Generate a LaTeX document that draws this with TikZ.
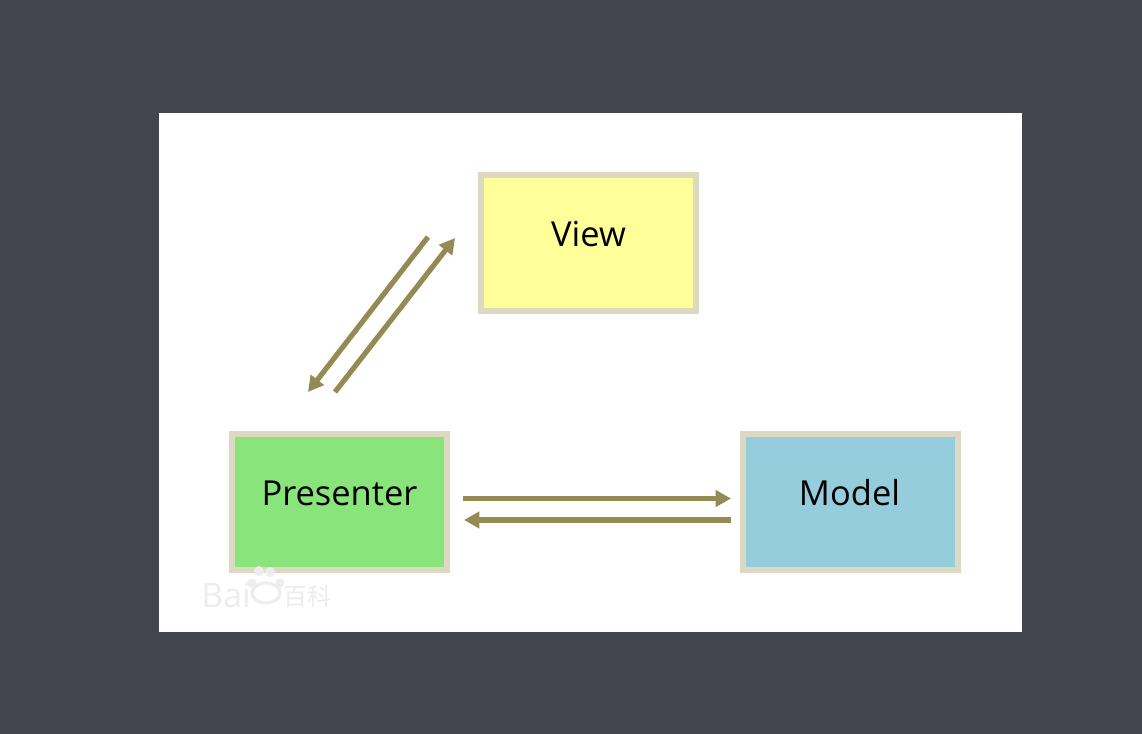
\documentclass[tikz,border=0pt]{standalone}
\usepackage{fontspec}
\setmainfont{Open Sans}
\newfontfamily\cjkmark{Noto Sans CJK SC}
\usetikzlibrary{arrows.meta}
\definecolor{backdrop}{HTML}{42454E}
\definecolor{boxedge}{HTML}{DDD8C2}
\definecolor{arrowtan}{HTML}{948A54}
\definecolor{viewfill}{HTML}{FFFF99}
\definecolor{presenterfill}{HTML}{89E47B}
\definecolor{modelfill}{HTML}{95CDDD}
\definecolor{markgray}{HTML}{EDEDED}

\begin{document}
\begin{tikzpicture}[
    x=0.025cm,y=-0.025cm,
    box/.style={rectangle,draw=boxedge,line width=4.4pt,minimum width=5.375cm,minimum height=3.4cm,inner sep=0pt},
    boxlabel/.style={font=\fontsize{24.5}{24.5}\selectfont,text=black},
    link/.style={draw=arrowtan,line width=3.7pt,-{Triangle[length=11pt,width=11.5pt]}},
    watermark/.style={text=markgray,inner sep=0pt},
    toe/.style={fill=markgray,draw=none}
]
    \useasboundingbox (0,0) rectangle (1142,734);
    \fill[backdrop] (0,0) rectangle (1142,734);
    \fill[white] (159,113) rectangle (1022,632);

    % boxes
    \node[box,fill=viewfill] (view) at (588.5,243) {};
    \node[box,fill=presenterfill] (presenter) at (339.5,502) {};
    \node[box,fill=modelfill] (model) at (850.5,502) {};

    \node[boxlabel] (viewtext) at (588.5,234) {View};
    \node[boxlabel] (presentertext) at (339.5,493) {Presenter};
    \node[boxlabel] (modeltext) at (849.5,493) {Model};

    % free ends of the arrows
    \coordinate (pv_start) at (335,392);
    \coordinate (pv_end) at (455,238);
    \coordinate (vp_start) at (428,237);
    \coordinate (vp_end) at (308,392);
    \coordinate (pm_start) at (463,498.5);
    \coordinate (pm_end) at (731,498.5);
    \coordinate (mp_start) at (731,520);
    \coordinate (mp_end) at (464,520);

    \draw[link] (pv_start) -- (pv_end);
    \draw[link] (vp_start) -- (vp_end);
    \draw[link] (pm_start) -- (pm_end);
    \draw[link] (mp_start) -- (mp_end);

    % watermark
    \node[watermark,font=\fontsize{24}{24}\selectfont] (bai) at (226,595) {Bai};
    \node[watermark,font=\cjkmark\fontsize{17}{17}\selectfont] (baike) at (307,596) {百科};
    \fill[toe] (259,571) circle (5);
    \fill[toe] (270,572) circle (5);
    \fill[toe] (252,583) circle (4.5);
    \fill[toe] (280,583) circle (4.5);
    \draw[markgray,line width=2.2pt] (266,593) ellipse (14 and 10);
\end{tikzpicture}
\end{document}
